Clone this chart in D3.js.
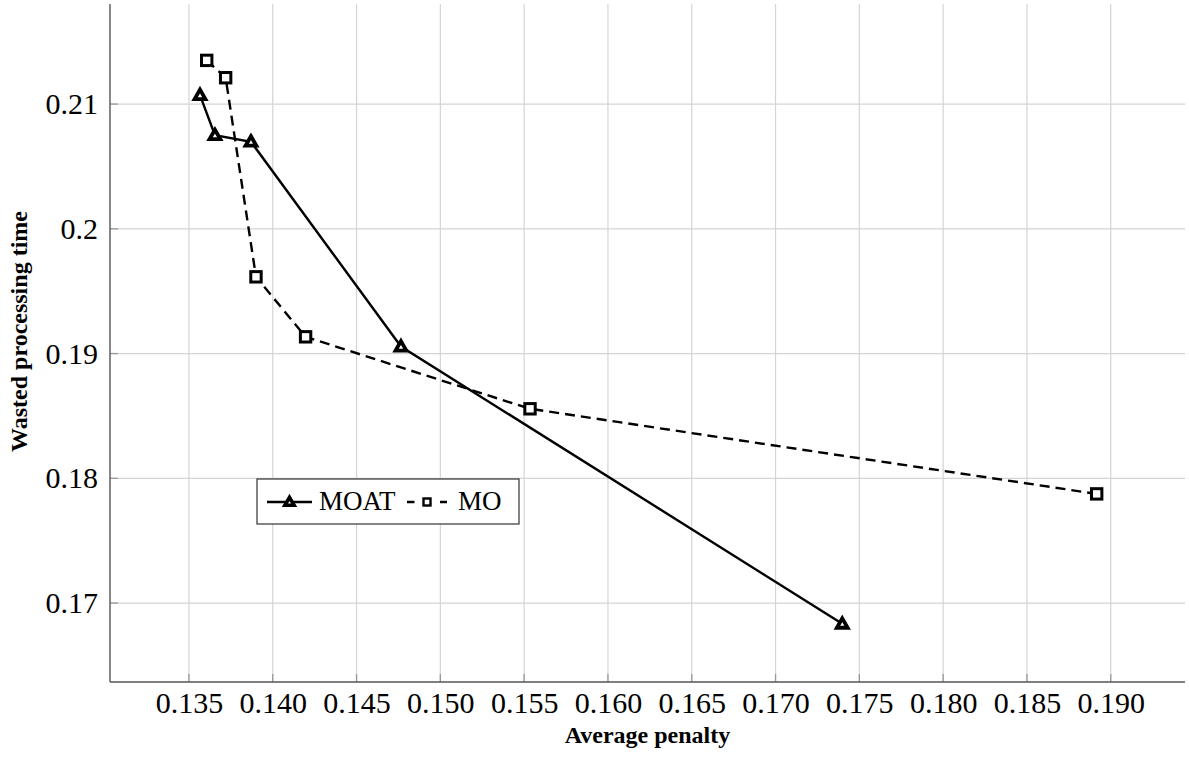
<!DOCTYPE html>
<html>
<head>
<meta charset="utf-8">
<script src="https://cdn.jsdelivr.net/npm/d3@7"></script>
<style>
  html, body { margin: 0; padding: 0; background: #fff; }
  svg { display: block; }
  text { font-family: "Liberation Serif", "Times New Roman", serif; fill: #000; }
</style>
</head>
<body>
<svg id="chart" width="1189" height="760"></svg>
<script>
// ---- data ----
const moatX = [0.13566, 0.13655, 0.13870, 0.14765, 0.17398];
const moatY = [0.21072, 0.20751, 0.20698, 0.19056, 0.16834];
const moX = [0.13606, 0.13719, 0.13900, 0.14196, 0.15535, 0.18916];
const moY = [0.21350, 0.21211, 0.19615, 0.19134, 0.18557, 0.17875];
const xTicks = [0.135, 0.140, 0.145, 0.150, 0.155, 0.160, 0.165, 0.170, 0.175, 0.180, 0.185, 0.190];
const yTicks = [0.17, 0.18, 0.19, 0.20, 0.21];
const seriesNames = ["MOAT", "MO"];
const xTitle = "Average penalty";
const yTitle = "Wasted processing time";

// ---- layout ----
const L = 110, R = 1185, T = 4, B = 682;
const svg = d3.select("#chart");
const x = d3.scaleLinear().domain([0.13029, 0.19443]).range([L, R]);
const y = d3.scaleLinear().domain([0.16367, 0.21802]).range([B, T]);

// grid
const grid = svg.append("g");
grid.selectAll("line.vx").data(xTicks).join("line")
  .attr("x1", d => x(d)).attr("x2", d => x(d)).attr("y1", T).attr("y2", B)
  .attr("stroke", "#d4d4d4").attr("stroke-width", 1.2);
grid.selectAll("line.hy").data(yTicks).join("line")
  .attr("y1", d => y(d)).attr("y2", d => y(d)).attr("x1", L).attr("x2", R)
  .attr("stroke", "#d4d4d4").attr("stroke-width", 1.2);

// axes
const xAxis = d3.axisBottom(x).tickValues(xTicks).tickFormat(d3.format(".3f")).tickSize(0).tickPadding(0);
const yAxis = d3.axisLeft(y).tickValues(yTicks).tickFormat(d3.format("~g")).tickSize(0).tickPadding(12);
const gx = svg.append("g").attr("transform", `translate(0,${B})`).call(xAxis);
const gy = svg.append("g").attr("transform", `translate(${L},0)`).call(yAxis);
gx.select(".domain").remove();
gy.select(".domain").remove();
gx.selectAll("text").attr("font-size", 30).attr("font-family", "Liberation Serif")
  .attr("y", 31).attr("dy", 0);
gy.selectAll("text").attr("font-size", 30).attr("font-family", "Liberation Serif");
// inner ticks
svg.append("g").selectAll("line").data(xTicks).join("line")
  .attr("x1", d => x(d)).attr("x2", d => x(d)).attr("y1", B).attr("y2", B - 8)
  .attr("stroke", "#999").attr("stroke-width", 1.3);
svg.append("g").selectAll("line").data(yTicks).join("line")
  .attr("y1", d => y(d)).attr("y2", d => y(d)).attr("x1", L).attr("x2", L + 8)
  .attr("stroke", "#999").attr("stroke-width", 1.3);
// axis lines
svg.append("line").attr("x1", L).attr("x2", L).attr("y1", T).attr("y2", B)
  .attr("stroke", "#555").attr("stroke-width", 1.4);
svg.append("line").attr("x1", L).attr("x2", R).attr("y1", B).attr("y2", B)
  .attr("stroke", "#555").attr("stroke-width", 1.4);

// titles
svg.append("text").attr("x", (L + R) / 2).attr("y", 743).attr("text-anchor", "middle")
  .attr("font-size", 24).attr("font-weight", "bold").text(xTitle);
svg.append("text").attr("transform", `translate(27,${(210 + 453) / 2}) rotate(-90)`)
  .attr("text-anchor", "middle").attr("font-size", 24).attr("font-weight", "bold").text(yTitle);

// series
const moat = moatX.map((v, i) => [v, moatY[i]]);
const mo = moX.map((v, i) => [v, moY[i]]);
const line = d3.line().x(d => x(d[0])).y(d => y(d[1]));
const tri = "M0,-5.4 L5.4,4 L-5.4,4 Z";
const triSmall = "M0,-4.6 L4.6,3.3 L-4.6,3.3 Z";

svg.append("path").datum(mo).attr("d", line).attr("fill", "none")
  .attr("stroke", "#000").attr("stroke-width", 2.4).attr("stroke-dasharray", "10,6");
svg.append("path").datum(moat).attr("d", line).attr("fill", "none")
  .attr("stroke", "#000").attr("stroke-width", 2.4);

svg.append("g").selectAll("path").data(moat).join("path")
  .attr("transform", d => `translate(${x(d[0])},${y(d[1])})`)
  .attr("d", tri).attr("fill", "#fff").attr("stroke", "#000").attr("stroke-width", 3.8)
  .attr("stroke-linejoin", "miter");
svg.append("g").selectAll("rect").data(mo).join("rect")
  .attr("x", d => x(d[0]) - 5.2).attr("y", d => y(d[1]) - 5.2)
  .attr("width", 10.4).attr("height", 10.4)
  .attr("fill", "#fff").attr("stroke", "#000").attr("stroke-width", 3);

// legend
const lg = svg.append("g");
lg.append("rect").attr("x", 257).attr("y", 479).attr("width", 262).attr("height", 45)
  .attr("fill", "#fff").attr("stroke", "#333").attr("stroke-width", 1.2);
lg.append("line").attr("x1", 267).attr("x2", 312).attr("y1", 502).attr("y2", 502)
  .attr("stroke", "#000").attr("stroke-width", 2.4);
lg.append("path").attr("transform", "translate(289.5,502)").attr("d", triSmall)
  .attr("fill", "#fff").attr("stroke", "#000").attr("stroke-width", 3.6);
lg.append("text").attr("x", 319).attr("y", 510).attr("font-size", 27).text(seriesNames[0]);
lg.append("line").attr("x1", 407).attr("x2", 447).attr("y1", 502).attr("y2", 502)
  .attr("stroke", "#000").attr("stroke-width", 2.4).attr("stroke-dasharray", "7.5,9");
lg.append("rect").attr("x", 423.5).attr("y", 498.5).attr("width", 7).attr("height", 7)
  .attr("fill", "#fff").attr("stroke", "#000").attr("stroke-width", 2.4);
lg.append("text").attr("x", 458).attr("y", 510).attr("font-size", 27).text(seriesNames[1]);
</script>
</body>
</html>
